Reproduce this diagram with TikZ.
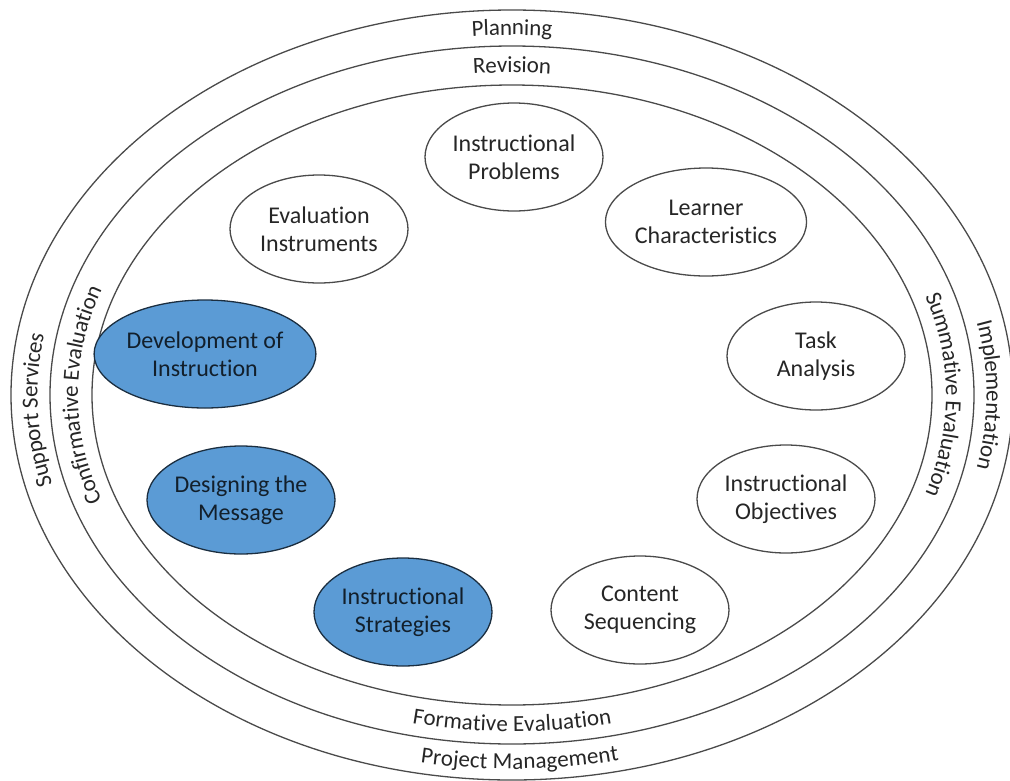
\documentclass[tikz,border=0pt]{standalone}
\usepackage{fontspec}
\setmainfont{Carlito}[Ligatures=NoCommon]
\usepackage{tikz}
\usetikzlibrary{shapes.geometric,decorations.text}

\definecolor{stageblue}{HTML}{5B9BD5}
\definecolor{linegray}{HTML}{4A4A4A}
\newcommand{\ringfont}{\fontsize{23}{23}\selectfont}

\tikzset{
  ring/.style={draw=linegray,line width=1.3pt},
  stage/.style={ellipse,draw=linegray,line width=1.3pt,fill=white,
    minimum width=178pt,minimum height=108pt,inner sep=0pt,align=center,
    text=black!85,font=\fontsize{24}{28}\selectfont},
  keystage/.style={stage,fill=stageblue,draw=black!70!stageblue,text=black!80!stageblue},
  ringlabel/.style={decorate,decoration={text along path,text align=center,
    raise=-7pt,text color=black!85,text={|\ringfont|#1}}}
}

\begin{document}
\begin{tikzpicture}[x=1pt,y=1pt]
\useasboundingbox (0,0) rectangle (1010,-780);

% the three rings
\draw[ring] (512,-395) ellipse [x radius=501, y radius=385];
\draw[ring] (512,-395) ellipse [x radius=462, y radius=349];
\draw[ring] (512,-395) ellipse [x radius=420, y radius=310];

% outer band
\path[ringlabel=Planning,shift={(512,-395)}] (130:481.5 and 367) arc[start angle=130,end angle=50,x radius=481.5,y radius=367];
\path[ringlabel=Support Services,shift={(512,-395)}] (232:481.5 and 367) arc[start angle=232,end angle=132,x radius=481.5,y radius=367];
\path[ringlabel=Implementation,shift={(512,-395)}] (50:481.5 and 367) arc[start angle=50,end angle=-50,x radius=481.5,y radius=367];
\path[ringlabel=Project Management,shift={(512,-395)}] (231:481.5 and 367) arc[start angle=231,end angle=311,x radius=481.5,y radius=367];

% inner band
\path[ringlabel=Revision,shift={(512,-395)}] (130:441 and 329.5) arc[start angle=130,end angle=50,x radius=441,y radius=329.5];
\path[ringlabel=Confirmative Evaluation,shift={(512,-395)}] (230:441 and 329.5) arc[start angle=230,end angle=130,x radius=441,y radius=329.5];
\path[ringlabel=Summative Evaluation,shift={(512,-395)}] (50:441 and 329.5) arc[start angle=50,end angle=-50,x radius=441,y radius=329.5];
\path[ringlabel=Formative Evaluation,shift={(512,-395)}] (230:441 and 329.5) arc[start angle=230,end angle=310,x radius=441,y radius=329.5];

% stages
\node[stage] (problems) at (514,-157) {Instructional\\Problems};
\node[stage] (learner) at (706,-222) {Learner\\Characteristics};
\node[stage] (evalinst) at (319,-229) {Evaluation\\Instruments};
\node[stage] (task) at (816,-356) {Task\\Analysis};
\node[keystage] (devinst) at (205,-354) {Development of\\Instruction};
\node[stage] (objectives) at (786,-499) {Instructional\\Objectives};
\node[keystage] (message) at (241,-500) {Designing the\\Message};
\node[stage] (content) at (640,-610) {Content\\Sequencing};
\node[keystage] (strategies) at (403,-612) {Instructional\\Strategies};
\end{tikzpicture}
\end{document}
